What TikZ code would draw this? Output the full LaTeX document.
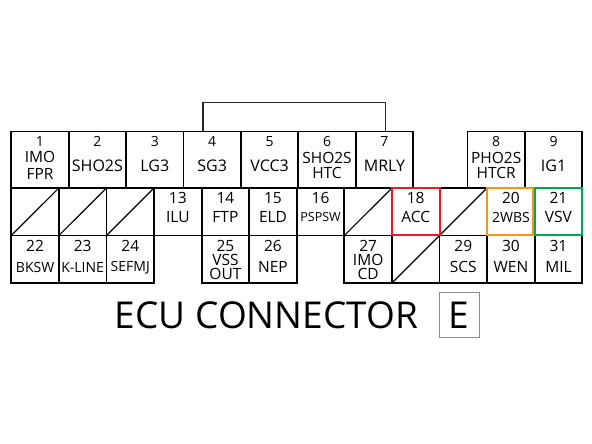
\documentclass[tikz,border=0pt]{standalone}
\usepackage{fontspec}
\setmainfont{Open Sans}
\usetikzlibrary{positioning}
\definecolor{accred}{HTML}{ED1C24}
\definecolor{accorange}{HTML}{F7941D}
\definecolor{accgreen}{HTML}{00A651}
\tikzset{
  pinbox/.style={draw, line width=1.8pt, inner sep=0pt, outer sep=0pt},
  bigpin/.style={pinbox, minimum width=57.4pt, minimum height=56.5pt},
  smallpin/.style={pinbox, minimum width=47.58pt, minimum height=47.5pt},
  deadpin/.style={smallpin,
    path picture={\draw[line width=1.2pt] (path picture bounding box.south west)
      -- (path picture bounding box.north east);}},
  topno/.style={below=5pt, inner sep=0pt, font=\fontsize{14}{14}\selectfont},
  pinno/.style={below=4.5pt, inner sep=0pt, font=\fontsize{15.5}{15.5}\selectfont},
  topname/.style={anchor=center, yshift=22.5pt, inner sep=0pt, align=center,
    font=\fontsize{16}{15.2}\selectfont},
  midname/.style={anchor=center, yshift=18.2pt, inner sep=0pt, align=center,
    font=\fontsize{15.5}{15.5}\selectfont},
  lowname/.style={anchor=center, yshift=15.7pt, inner sep=0pt, align=center,
    font=\fontsize{15.5}{14}\selectfont},
  hilite/.style={line width=2pt},
  bracket/.style={line width=1.3pt, draw=black!85},
}
\begin{document}
\begin{tikzpicture}[x=1pt, y=1pt]
  \useasboundingbox (0,0) rectangle (592,444);
  % upper row
  \node[bigpin, anchor=north west, label={[topno]north:1},
    label={[topname, font=\fontsize{15.5}{16.5}\selectfont]south:IMO\\FPR}] (pin1) at (11.3,312.5) {};
  \node[bigpin, right=0pt of pin1, label={[topno]north:2}, label={[topname]south:SHO2S}] (pin2) {};
  \node[bigpin, right=0pt of pin2, label={[topno]north:3}, label={[topname]south:LG3}] (pin3) {};
  \node[bigpin, right=0pt of pin3, label={[topno]north:4}, label={[topname]south:SG3}] (pin4) {};
  \node[bigpin, right=0pt of pin4, label={[topno]north:5}, label={[topname]south:VCC3}] (pin5) {};
  \node[bigpin, right=0pt of pin5, label={[topno]north:6},
    label={[topname, font=\fontsize{15.5}{15.2}\selectfont]south:SHO2S\\HTC}] (pin6) {};
  \node[bigpin, right=0pt of pin6, label={[topno]north:7}, label={[topname]south:MRLY}] (pin7) {};
  \node[bigpin, right=54.4pt of pin7, label={[topno]north:8},
    label={[topname, font=\fontsize{15.5}{15.2}\selectfont]south:PHO2S\\HTCR}] (pin8) {};
  \node[bigpin, right=0pt of pin8, label={[topno]north:9}, label={[topname]south:IG1}] (pin9) {};
  % middle row
  \node[deadpin, anchor=north west] (pin10) at (pin1.south west) {};
  \node[deadpin, right=0pt of pin10] (pin11) {};
  \node[deadpin, right=0pt of pin11] (pin12) {};
  \node[smallpin, right=0pt of pin12, label={[pinno]north:13}, label={[midname]south:ILU}] (pin13) {};
  \node[smallpin, right=0pt of pin13, label={[pinno]north:14}, label={[midname]south:FTP}] (pin14) {};
  \node[smallpin, right=0pt of pin14, label={[pinno]north:15}, label={[midname]south:ELD}] (pin15) {};
  \node[smallpin, right=0pt of pin15, label={[pinno]north:16},
    label={[midname, font=\fontsize{12.5}{12.5}\selectfont]south:PSPSW}] (pin16) {};
  \node[deadpin, right=0pt of pin16] (pin17) {};
  \node[smallpin, right=0pt of pin17, label={[pinno]north:18}, label={[midname]south:ACC}] (pin18) {};
  \node[deadpin, right=0pt of pin18] (pin19) {};
  \node[smallpin, right=0pt of pin19, label={[pinno]north:20},
    label={[midname, font=\fontsize{14}{14}\selectfont]south:2WBS}] (pin20) {};
  \node[smallpin, right=0pt of pin20, label={[pinno]north:21}, label={[midname]south:VSV}] (pin21) {};
  % lower row
  \node[smallpin, anchor=north west, label={[pinno]north:22},
    label={[lowname, font=\fontsize{14}{14}\selectfont]south:BKSW}] (pin22) at (pin10.south west) {};
  \node[smallpin, right=0pt of pin22, label={[pinno]north:23},
    label={[lowname, font=\fontsize{14}{14}\selectfont]south:K-LINE}] (pin23) {};
  \node[smallpin, right=0pt of pin23, label={[pinno]north:24},
    label={[lowname, font=\fontsize{14}{14}\selectfont]south:SEFMJ}] (pin24) {};
  \node[smallpin, anchor=north west, label={[pinno]north:25},
    label={[lowname]south:VSS\\OUT}] (pin25) at (pin14.south west) {};
  \node[smallpin, right=0pt of pin25, label={[pinno]north:26}, label={[lowname]south:NEP}] (pin26) {};
  \node[smallpin, anchor=north west, label={[pinno]north:27},
    label={[lowname]south:IMO\\CD}] (pin27) at (pin17.south west) {};
  \node[deadpin, right=0pt of pin27] (pin28) {};
  \node[smallpin, right=0pt of pin28, label={[pinno]north:29}, label={[lowname]south:SCS}] (pin29) {};
  \node[smallpin, right=0pt of pin29, label={[pinno]north:30}, label={[lowname]south:WEN}] (pin30) {};
  \node[smallpin, right=0pt of pin30, label={[pinno]north:31}, label={[lowname]south:MIL}] (pin31) {};
  % coloured frames
  \draw[hilite, accred] (pin18.south west) rectangle (pin18.north east);
  \draw[hilite, accorange] (pin20.south west) rectangle ([xshift=-2pt]pin20.north east);
  \draw[hilite, accgreen] ([xshift=0.7pt]pin21.south west) rectangle (pin21.north east);
  % link 4 -- 7
  \draw[bracket] ([xshift=19.5pt]pin4.north west) -- ++(0,29.2) -| ([xshift=29.6pt]pin7.north west);
  % title
  \node[inner sep=0pt, font=\fontsize{37}{37}\selectfont] (title) at (266.5,129) {ECU CONNECTOR};
  \node[draw=black!45, line width=0.9pt, minimum width=39.7pt, minimum height=45pt, inner sep=0pt,
    font=\fontsize{37}{37}\selectfont] (connE) at (459.2,129.2) {E};
\end{tikzpicture}
\end{document}
